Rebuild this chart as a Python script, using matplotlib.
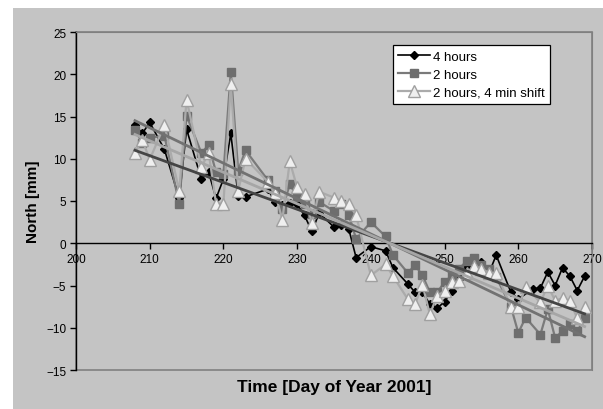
import numpy as np
import matplotlib.pyplot as plt
from matplotlib.patches import Rectangle

plt.rcParams['font.family'] = ['Liberation Sans', 'DejaVu Sans']

# North component, daily solutions (day of year 2001)
days_4h = [208, 209, 210, 212, 214, 215, 217, 218, 219, 220, 221, 222, 223, 226, 227,
           228, 229, 230, 231, 232, 233, 235, 236, 237, 238, 240, 242, 243, 245, 246,
           247, 248, 249, 250, 251, 252, 253, 254, 255, 256, 257, 259, 260, 262, 263,
           264, 265, 266, 267, 268, 269]
north_4h = [14.0, 13.0, 14.3, 11.1, 5.3, 13.5, 7.6, 8.4, 5.3, 7.6, 13.0, 5.6, 5.5, 6.4, 4.9,
            4.5, 4.8, 4.6, 3.3, 1.4, 3.6, 1.9, 2.2, 1.7, -1.7, -0.4, -0.9, -2.9, -4.8, -5.8,
            -5.8, -7.2, -7.7, -6.9, -5.6, -4.2, -2.7, -2.6, -2.2, -3.6, -1.4, -5.8, -6.6, -5.4, -5.3,
            -3.4, -5.0, -2.9, -3.9, -5.6, -3.9]

days_2h = [208, 209, 210, 212, 214, 215, 217, 218, 219, 220, 221, 222, 223, 226, 227,
           228, 229, 230, 231, 232, 233, 235, 236, 237, 238, 240, 242, 243, 245, 246,
           247, 248, 249, 250, 251, 252, 253, 254, 255, 256, 257, 259, 260, 261, 263,
           264, 265, 266, 267, 268, 269]
north_2h = [13.4, 11.9, 12.5, 12.7, 4.7, 15.1, 10.7, 11.6, 8.4, 8.2, 20.3, 8.6, 11.0, 7.5, 6.2,
            4.0, 7.0, 5.5, 4.6, 3.5, 4.9, 3.8, 4.6, 3.4, 0.5, 2.5, 0.8, -1.4, -3.5, -2.6,
            -3.8, -5.8, -5.8, -4.6, -3.8, -3.0, -2.1, -1.7, -2.6, -3.0, -4.0, -7.5, -10.6, -8.8, -10.8,
            -7.8, -11.2, -10.4, -9.6, -10.4, -8.9]

days_2h_shift = days_2h
north_2h_shift = [10.7, 12.2, 9.9, 14.0, 6.2, 17.0, 9.0, 10.7, 4.7, 4.7, 18.8, 6.2, 10.0, 7.3, 5.9,
                  2.8, 9.7, 6.6, 5.8, 2.4, 6.1, 5.4, 5.0, 4.7, 3.3, -3.8, -2.5, -3.9, -6.6, -7.2,
                  -4.9, -8.4, -6.2, -5.7, -4.6, -4.5, -3.5, -2.7, -3.0, -3.5, -3.5, -7.5, -7.6, -5.2, -7.0,
                  -5.0, -6.8, -6.5, -6.8, -8.9, -7.6]

labels = ['4 hours', '2 hours', '2 hours, 4 min shift']

fig = plt.figure(figsize=(6.03, 4.10), dpi=100)
fig.patches.append(Rectangle((13 / 603, 0), 1, 1 - 9 / 410, transform=fig.transFigure,
                             facecolor='#c4c4c4', edgecolor='none', zorder=-10))
ax = fig.add_axes([76 / 603, 1 - 371 / 410, 516 / 603, 338 / 410])
ax.set_facecolor('none')

ax.plot(days_4h, north_4h, color='black', lw=1.2, marker='D', ms=4.5,
        mfc='black', mec='black', label=labels[0], zorder=3)
ax.plot(days_2h, north_2h, color='#7a7a7a', lw=1.6, marker='s', ms=5.5,
        mfc='#6e6e6e', mec='#6e6e6e', label=labels[1], zorder=4)
ax.plot(days_2h_shift, north_2h_shift, color='#ababab', lw=1.6, marker='^', ms=8,
        mfc='#efefef', mec='#a0a0a0', mew=1.0, label=labels[2], zorder=5)

# linear trend lines
for d, n, c in [(days_4h, north_4h, '#454545'),
                (days_2h, north_2h, '#727272'),
                (days_2h_shift, north_2h_shift, '#a6a6a6')]:
    d = np.array(d, dtype=float)
    k, b = np.polyfit(d, n, 1)
    xx = np.array([d.min(), d.max()])
    ax.plot(xx, k * xx + b, color=c, lw=2.0, zorder=6)

ax.set_xlim(200, 270)
ax.set_ylim(-15, 25)
ax.set_xticks(np.arange(200, 271, 10))
ax.set_yticks(np.arange(-15, 26, 5))

ax.spines['bottom'].set_position(('data', 0))
for s in ['top', 'right']:
    ax.spines[s].set_color('#808080')
ax.spines['left'].set_color('black')
ax.spines['bottom'].set_color('black')
for s in ['left', 'bottom']:
    ax.spines[s].set_linewidth(1.0)
ax.add_patch(Rectangle((0, 0), 1, 1, transform=ax.transAxes, fill=False,
                       edgecolor='#808080', lw=1.2, clip_on=False, zorder=1))

ax.tick_params(direction='out', length=4, width=1, labelsize=8.5, colors='black', pad=3)

ax.set_xlabel('Time [Day of Year 2001]', fontsize=12.5, fontweight='bold', va='center')
ax.set_ylabel('North [mm]', fontsize=11, fontweight='bold', va='center')
ax.xaxis.set_label_coords(0.5, (371 - 388) / 338)
ax.yaxis.set_label_coords((33 - 76) / 516, 0.5)

leg = ax.legend(loc='upper left', bbox_to_anchor=((393 - 76) / 516, 1 - (46 - 33) / 338),
                borderaxespad=0, fancybox=False, framealpha=1, edgecolor='black',
                fontsize=9.5, handlelength=2.4, handletextpad=0.25, borderpad=0.4,
                labelspacing=0.45)
leg.get_frame().set_linewidth(0.9)

fig.savefig('out.png', dpi=100)
